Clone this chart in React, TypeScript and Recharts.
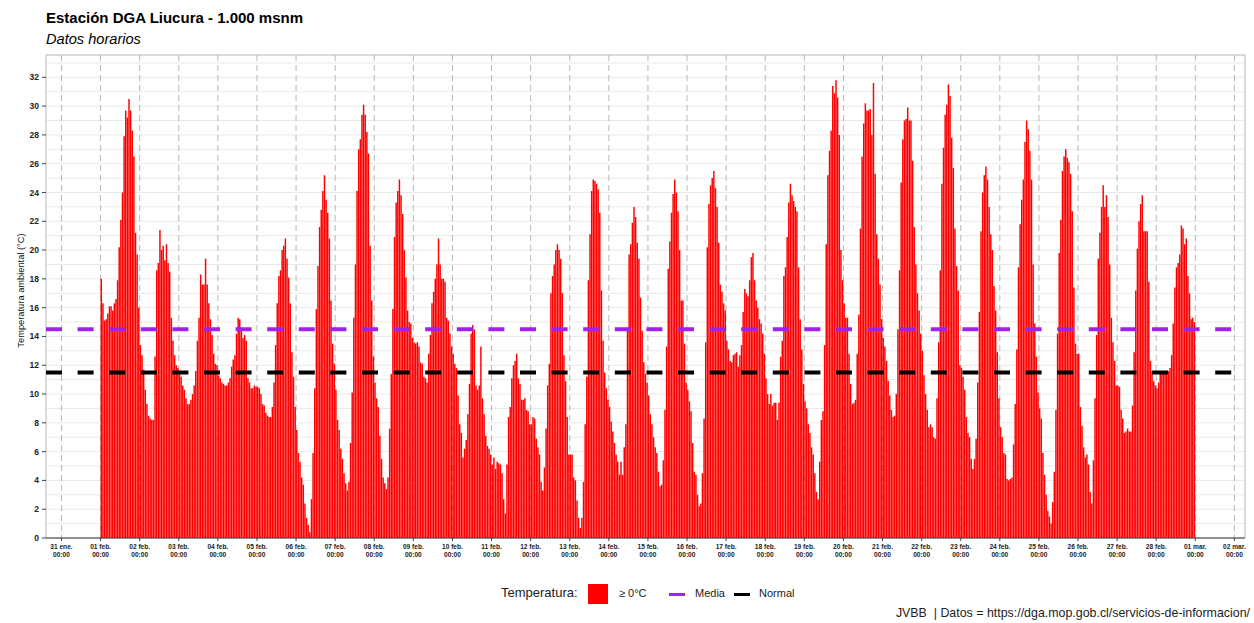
import React from "react";
import { ComposedChart, Bar, XAxis, YAxis, CartesianGrid, ReferenceLine, ReferenceArea, Label } from "recharts";

// hourly temperature (°C), one array per day, 00:00 .. 23:00
const feb01 = [18.0, 16.3, 15.1, 15.2, 15.6, 16.1, 16.1, 15.8, 16.3, 16.6, 17.9, 20.2, 22.1, 24.0, 27.9, 29.7, 29.2, 30.5, 29.7, 28.3, 26.5, 21.2, 19.7, 16.0];
const feb02 = [13.4, 12.7, 11.7, 10.3, 9.3, 8.5, 8.3, 8.2, 8.2, 12.6, 18.6, 19.1, 21.4, 20.0, 20.3, 19.3, 20.4, 19.1, 18.5, 15.3, 13.7, 12.7, 12.0, 11.8];
const feb03 = [11.6, 11.2, 10.6, 10.3, 9.7, 9.3, 9.3, 9.6, 10.0, 10.6, 11.6, 13.7, 15.3, 18.3, 17.6, 17.6, 19.4, 17.6, 16.3, 15.2, 14.1, 12.8, 12.1, 12.0];
const feb04 = [11.3, 11.1, 10.8, 10.7, 10.6, 10.6, 10.8, 11.1, 11.9, 12.4, 12.7, 14.2, 15.3, 15.2, 14.6, 13.9, 14.1, 13.7, 11.1, 10.8, 10.4, 10.4, 10.6, 10.5];
const feb05 = [10.5, 10.4, 10.0, 9.3, 9.2, 8.7, 8.5, 8.4, 8.4, 9.1, 10.8, 13.4, 16.3, 18.2, 18.6, 20.0, 20.3, 20.8, 19.4, 18.1, 16.3, 12.9, 11.2, 9.1];
const feb06 = [7.5, 5.9, 5.3, 4.2, 3.7, 2.4, 1.4, 0.9, 0.4, 2.7, 5.9, 10.4, 15.9, 18.9, 21.6, 22.8, 24.1, 25.2, 23.5, 22.6, 20.8, 16.5, 13.5, 12.1];
const feb07 = [10.3, 8.2, 7.5, 6.2, 5.5, 4.5, 3.8, 3.3, 3.9, 6.6, 10.1, 15.3, 19.0, 24.1, 27.0, 27.7, 29.4, 30.1, 29.4, 28.2, 26.7, 20.3, 16.5, 12.6];
const feb08 = [10.8, 9.7, 9.1, 7.1, 5.5, 4.2, 3.8, 3.4, 4.2, 7.6, 11.4, 15.9, 20.9, 23.3, 24.1, 24.9, 23.8, 22.5, 20.0, 18.1, 15.8, 15.0, 14.9, 13.9];
const feb09 = [13.6, 13.5, 13.6, 13.3, 12.2, 12.1, 11.2, 11.1, 10.8, 12.8, 14.1, 16.3, 17.1, 18.0, 19.0, 20.8, 19.0, 18.0, 18.0, 17.8, 15.3, 15.1, 14.2, 13.3];
const feb10 = [12.8, 12.1, 11.8, 9.9, 7.9, 7.3, 5.6, 6.2, 6.8, 8.6, 10.7, 14.2, 14.8, 14.5, 10.6, 10.3, 10.6, 13.3, 9.7, 8.6, 7.1, 6.4, 6.2, 5.8];
const feb11 = [5.1, 5.6, 4.8, 5.3, 5.2, 5.1, 4.5, 2.7, 1.7, 5.1, 8.4, 9.1, 11.1, 12.0, 12.3, 12.8, 11.1, 10.7, 9.6, 9.6, 9.7, 8.9, 8.8, 7.9];
const feb12 = [7.9, 8.4, 8.3, 6.9, 6.3, 5.8, 3.9, 3.3, 4.9, 7.6, 10.6, 12.1, 17.0, 18.2, 19.0, 20.0, 20.4, 20.0, 19.4, 17.0, 12.7, 10.9, 8.4, 5.8];
const feb13 = [5.8, 5.8, 4.2, 4.0, 2.6, 1.4, 0.7, 1.4, 3.9, 7.9, 11.2, 17.9, 21.1, 24.1, 24.9, 24.8, 24.6, 24.2, 22.6, 17.2, 13.7, 11.5, 10.4, 9.6];
const feb14 = [9.1, 8.1, 7.4, 6.6, 5.8, 5.3, 4.4, 5.3, 4.4, 6.3, 7.9, 14.6, 19.7, 20.4, 21.9, 23.0, 22.3, 20.5, 19.4, 16.7, 14.4, 12.2, 11.4, 10.8];
const feb15 = [9.9, 8.6, 7.9, 7.0, 6.3, 5.9, 4.6, 3.6, 3.7, 5.4, 8.9, 13.3, 18.7, 20.6, 22.6, 23.9, 24.9, 24.0, 22.7, 20.0, 16.5, 16.5, 13.5, 10.8];
const feb16 = [10.3, 9.5, 8.8, 6.6, 4.6, 4.4, 3.0, 2.2, 2.4, 4.5, 8.3, 13.6, 20.2, 23.2, 24.5, 25.0, 25.5, 24.3, 23.0, 20.5, 17.6, 17.1, 16.3, 15.8];
const feb17 = [13.7, 13.1, 12.3, 12.2, 12.7, 12.8, 12.9, 11.9, 12.7, 13.4, 15.7, 17.3, 17.0, 16.8, 17.9, 19.5, 19.8, 17.9, 16.5, 16.0, 15.2, 14.9, 14.2, 12.8];
const feb18 = [11.1, 10.0, 9.3, 10.0, 9.2, 9.4, 9.4, 8.2, 9.4, 12.6, 13.7, 18.2, 18.8, 20.9, 23.3, 24.6, 23.8, 23.4, 23.0, 22.7, 18.8, 15.2, 13.1, 10.7];
const feb19 = [9.5, 9.0, 7.9, 7.3, 6.3, 5.8, 4.5, 3.2, 2.7, 5.3, 8.2, 8.8, 13.4, 20.4, 25.2, 26.9, 28.3, 31.4, 30.9, 31.8, 30.6, 28.0, 20.0, 17.9];
const feb20 = [16.3, 15.3, 15.3, 12.8, 10.7, 9.3, 9.4, 9.6, 12.8, 15.5, 21.5, 26.5, 28.8, 30.2, 29.7, 29.7, 29.8, 28.0, 31.6, 25.3, 21.1, 19.4, 17.6, 15.2];
const feb21 = [13.9, 13.3, 12.3, 10.9, 9.9, 8.9, 8.4, 8.5, 10.0, 14.5, 18.6, 24.7, 27.7, 29.0, 29.1, 29.9, 29.0, 29.0, 26.2, 21.6, 19.0, 17.0, 15.8, 14.2];
const feb22 = [13.0, 11.3, 10.0, 8.9, 7.7, 7.9, 7.7, 7.0, 6.9, 9.7, 13.6, 18.6, 24.6, 27.1, 29.4, 30.1, 31.5, 30.7, 27.8, 25.7, 21.5, 18.9, 17.2, 12.0];
const feb23 = [11.8, 11.2, 10.3, 8.4, 7.3, 7.0, 5.5, 4.8, 5.5, 6.9, 10.8, 15.7, 21.3, 24.0, 25.2, 25.8, 24.9, 23.0, 21.1, 20.0, 17.5, 15.8, 12.9, 9.7];
const feb24 = [7.7, 7.0, 5.9, 5.8, 4.1, 4.0, 4.1, 4.2, 6.5, 9.3, 13.1, 18.8, 21.8, 23.5, 24.9, 27.5, 29.0, 28.4, 26.9, 24.9, 19.0, 14.9, 12.6, 10.1];
const feb25 = [9.0, 8.3, 5.9, 4.4, 3.0, 1.9, 1.5, 1.0, 2.5, 4.6, 8.9, 14.2, 19.8, 22.1, 25.5, 26.5, 27.0, 26.4, 26.1, 25.3, 22.7, 17.4, 13.5, 12.8];
const feb26 = [12.8, 9.1, 7.8, 6.3, 5.6, 5.8, 5.1, 3.2, 2.4, 5.4, 9.7, 14.1, 19.4, 21.2, 23.0, 24.5, 23.0, 23.8, 22.3, 19.0, 15.3, 13.6, 12.3, 10.6];
const feb27 = [10.6, 10.5, 8.9, 8.3, 7.3, 7.4, 7.6, 7.4, 7.4, 9.2, 12.9, 17.2, 20.1, 22.0, 23.2, 23.8, 21.3, 21.3, 21.3, 17.8, 12.3, 11.6, 10.9, 10.6];
const feb28 = [10.4, 10.8, 11.5, 11.4, 11.4, 11.4, 11.5, 11.6, 11.8, 12.7, 14.9, 17.4, 18.8, 19.1, 19.7, 21.7, 21.5, 20.4, 20.8, 18.2, 17.0, 15.2, 15.3, 15.0];

const days = [
  feb01, feb02, feb03, feb04, feb05, feb06, feb07, feb08, feb09, feb10, feb11, feb12, feb13, feb14,
  feb15, feb16, feb17, feb18, feb19, feb20, feb21, feb22, feb23, feb24, feb25, feb26, feb27, feb28,
];

const dayLabels = [
  "31 ene.", "01 feb.", "02 feb.", "03 feb.", "04 feb.", "05 feb.", "06 feb.", "07 feb.", "08 feb.",
  "09 feb.", "10 feb.", "11 feb.", "12 feb.", "13 feb.", "14 feb.", "15 feb.", "16 feb.", "17 feb.",
  "18 feb.", "19 feb.", "20 feb.", "21 feb.", "22 feb.", "23 feb.", "24 feb.", "25 feb.", "26 feb.",
  "27 feb.", "28 feb.", "01 mar.", "02 mar.",
];
const hourLabel = "00:00";
const yTicks = [0, 2, 4, 6, 8, 10, 12, 14, 16, 18, 20, 22, 24, 26, 28, 30, 32];
const mediaValue = 14.5;
const normalValue = 11.5;

const FONT = '"Liberation Sans", Arial, Helvetica, sans-serif';
const X_MIN = -9.5;
const X_MAX = 726.5;
const Y_MAX = 33.55;

// hours since 31 ene 00:00; each bar covers its hour
const data = days.flatMap((temps, d) => temps.map((temp, h) => ({ t: 24 * (d + 1) + h + 0.5, temp })));
const dayTicks = dayLabels.map((_, i) => i * 24);
const gridValues = Array.from({ length: 33 }, (_, i) => i + 1);

function DayTick({ x, y, payload }: any) {
  const label = dayLabels[Math.round(payload.value / 24)];
  return (
    <text x={x} y={y} textAnchor="middle" fontSize={6.6} fontWeight="bold" fill="#222" fontFamily={FONT}>
      <tspan x={x} dy={5.5}>{label}</tspan>
      <tspan x={x} dy={8.5}>{hourLabel}</tspan>
    </text>
  );
}

function YTitle({ viewBox }: any) {
  const cx = viewBox.x + 5;
  const cy = viewBox.y + viewBox.height / 2 - 6;
  return (
    <text x={cx} y={cy} transform={`rotate(-90 ${cx} ${cy})`} textAnchor="middle" dominantBaseline="central"
      fontSize={9.3} fill="#111" fontFamily={FONT}>
      Temperatura ambiental (°C)
    </text>
  );
}

function LegendRow() {
  return (
    <div style={{ position: "absolute", left: 0, top: 580, width: 1254, height: 28, fontFamily: FONT, color: "#222" }}>
      <span style={{ position: "absolute", left: 501, top: 5, fontSize: 13 }}>Temperatura:</span>
      <span style={{ position: "absolute", left: 588, top: 4, width: 20, height: 20, background: "#ff0000" }} />
      <span style={{ position: "absolute", left: 619, top: 7, fontSize: 11 }}>≥ 0°C</span>
      <span style={{ position: "absolute", left: 669, top: 13, width: 16, height: 3, background: "#a020f0" }} />
      <span style={{ position: "absolute", left: 695, top: 7, fontSize: 11 }}>Media</span>
      <span style={{ position: "absolute", left: 734, top: 13, width: 16, height: 3, background: "#000" }} />
      <span style={{ position: "absolute", left: 759, top: 7, fontSize: 11 }}>Normal</span>
    </div>
  );
}

export default function App() {
  return (
    <div style={{ position: "absolute", left: 0, top: 0, width: 1254, height: 623, background: "#fff", fontFamily: FONT }}>
      <div style={{ position: "absolute", left: 46, top: 9, fontSize: 15, fontWeight: "bold", color: "#000" }}>
        Estación DGA Liucura - 1.000 msnm
      </div>
      <div style={{ position: "absolute", left: 46, top: 31, fontSize: 14.6, fontStyle: "italic", color: "#000" }}>
        Datos horarios
      </div>
      <ComposedChart width={1254} height={623} data={data} margin={{ top: 55, right: 9, bottom: 55, left: 16 }}>
        <CartesianGrid horizontal vertical={false} horizontalValues={gridValues} stroke="#e9e9e9" />
        <CartesianGrid horizontal={false} vertical verticalValues={dayTicks} stroke="#b8b8b8" strokeDasharray="6 4" />
        <XAxis
          dataKey="t"
          type="number"
          domain={[X_MIN, X_MAX]}
          allowDataOverflow
          ticks={dayTicks}
          interval={0}
          height={30}
          tickSize={3}
          tickMargin={2}
          tick={<DayTick />}
          axisLine={{ stroke: "#444" }}
          tickLine={{ stroke: "#444" }}
        />
        <YAxis
          type="number"
          domain={[0, Y_MAX]}
          allowDataOverflow
          ticks={yTicks}
          interval={0}
          width={30}
          tickSize={4}
          tickMargin={3}
          axisLine={false}
          tickLine={{ stroke: "#444" }}
          tick={{ fontSize: 8.5, fontWeight: "bold", fill: "#222", fontFamily: FONT }}
        >
          <Label content={<YTitle />} position="insideLeft" />
        </YAxis>
        <ReferenceArea x1={X_MIN} x2={X_MAX} y1={0} y2={Y_MAX} fill="none" stroke="#b5b5b5" ifOverflow="visible" />
        <Bar dataKey="temp" fill="#ff0000" barSize={1.63} isAnimationActive={false} />
        <ReferenceLine y={mediaValue} stroke="#a020f0" strokeWidth={4} strokeDasharray="16 15.6" />
        <ReferenceLine y={normalValue} stroke="#000000" strokeWidth={4} strokeDasharray="16 15.6" />
      </ComposedChart>
      <LegendRow />
      <div style={{ position: "absolute", right: 4, top: 606, fontSize: 12.4, color: "#222", whiteSpace: "pre" }}>
        {"JVBB  | Datos = https://dga.mop.gob.cl/servicios-de-informacion/"}
      </div>
    </div>
  );
}
